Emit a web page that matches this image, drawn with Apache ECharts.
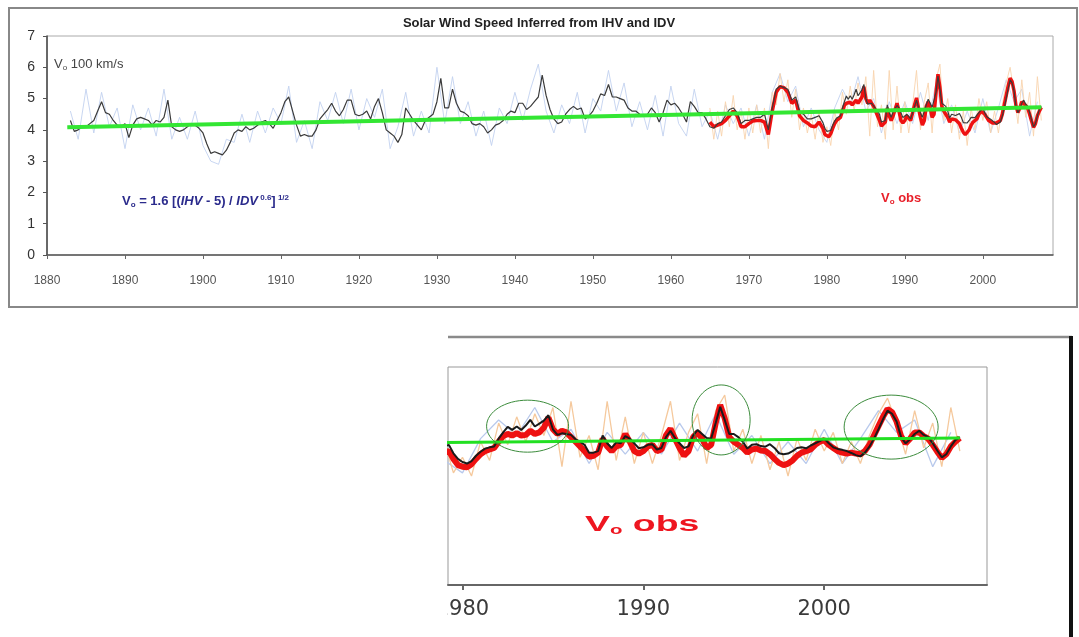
<!DOCTYPE html>
<html>
<head>
<meta charset="utf-8">
<title>Solar Wind Speed Inferred from IHV and IDV</title>
<script src="https://cdn.jsdelivr.net/npm/echarts@6/dist/echarts.min.js"></script>
<style>
  html, body { margin: 0; padding: 0; background: #fff; }
  #chart { width: 1079px; height: 637px; }
</style>
</head>
<body>
<div id="chart"></div>
<script>
// tick labels
const topTicks = [1880, 1890, 1900, 1910, 1920, 1930, 1940, 1950, 1960, 1970, 1980, 1990, 2000];
const zoomTicks = [1980, 1990, 2000];

// inferred V0 (smoothed), 1883.0 .. 1978.5 every half year
const inferStartA = 1883, inferStepA = 0.5;
const inferA = [
  4.30, 3.95, 4.00, 4.10, 4.10, 4.20, 4.30, 4.60, 4.90, 4.55,
  4.50, 4.30, 4.15, 4.10, 4.20, 3.75, 4.15, 4.35, 4.40, 4.35,
  4.30, 4.15, 4.30, 4.25, 4.40, 4.95, 4.10, 4.00, 3.95, 4.00,
  4.10, 4.20, 4.15, 4.05, 3.90, 3.55, 3.25, 3.30, 3.25, 3.20,
  3.35, 3.60, 3.90, 4.00, 3.95, 4.10, 4.00, 4.05, 4.15, 4.25,
  4.30, 4.20, 4.05, 4.30, 4.55, 4.90, 5.05, 4.60, 4.15, 3.80,
  3.85, 3.80, 3.80, 4.00, 4.35, 4.50, 4.65, 4.85, 4.60, 4.45,
  4.65, 4.95, 4.95, 4.50, 4.45, 4.50, 4.60, 4.35, 4.75, 5.00,
  4.55, 4.00, 3.90, 3.80, 3.60, 3.85, 4.70, 4.50, 4.30, 4.15,
  4.00, 4.30, 4.40, 4.50, 4.90, 5.65, 4.70, 4.70, 5.30, 4.85,
  4.60, 4.55, 4.45, 4.20, 4.15, 4.20, 4.10, 3.90, 4.00, 4.15,
  4.20, 4.30, 4.50, 4.60, 4.55, 4.85, 4.85, 4.65, 4.75, 4.90,
  5.05, 5.75, 5.10, 4.65, 4.35, 4.20, 4.25, 4.50, 4.65, 4.75,
  4.65, 4.70, 4.35, 4.45, 4.60, 4.85, 5.15, 5.10, 5.45, 5.05,
  5.05, 5.00, 4.95, 4.70, 4.60, 4.60, 4.50, 4.45, 4.50, 4.70,
  4.55, 4.25, 4.55, 4.95, 4.80, 4.85, 4.70, 4.50, 4.25, 4.90,
  4.75, 4.55, 4.55, 4.35, 4.10, 4.05, 4.20, 4.25, 4.45, 4.65,
  4.70, 4.55, 4.20, 4.30, 4.30, 4.35, 4.40, 4.40, 4.50, 4.00,
  4.70, 5.30, 5.40, 5.35, 5.30, 4.95, 5.05, 4.60, 4.50, 4.35,
  4.35, 4.40
];
// inferred V0 (smoothed), 1979.0 .. 2007.5 every quarter year
const inferStartB = 1979, inferStepB = 0.25;
const inferB = [
  4.45, 4.50, 4.23, 4.05,  3.95, 3.90, 3.98, 4.15,  4.28, 4.38, 4.42, 4.45,
  4.70, 4.90, 5.08, 4.98,  5.09, 4.98, 5.12, 5.30,  5.09, 5.18, 5.28, 5.45,
  5.00, 4.82, 4.87, 4.85,  4.82, 4.68, 4.60, 4.50,  4.25, 4.25, 4.30, 4.80,
  4.55, 4.40, 4.58, 4.55,  4.78, 4.70, 4.55, 4.39,  4.42, 4.50, 4.52, 4.35,
  4.40, 4.75, 4.95, 4.72,  4.55, 4.40, 4.45, 4.80,  4.98, 4.85, 4.72, 4.70,
  5.20, 5.72, 5.30, 4.85,  4.85, 4.75, 4.60, 4.38,  4.50, 4.52, 4.46, 4.44,
  4.52, 4.40, 4.23, 4.20,  4.22, 4.30, 4.40, 4.42,  4.39, 4.48, 4.55, 4.62,
  4.70, 4.55, 4.42, 4.37,  4.34, 4.30, 4.24, 4.17,  4.13, 4.25, 4.44, 4.70,
  5.00, 5.32, 5.60, 5.50,  5.25, 4.75, 4.55, 4.68,  4.85, 4.95, 4.82, 4.75,
  4.55, 4.32, 4.10, 4.20,  4.45, 4.65, 4.75
];

// observed V0 (smoothed), 1965.0 .. 1978.5 every half year
const obsStartA = 1965, obsStepA = 0.5;
const obsA = [
  4.25, 4.10, 4.15, 4.20, 4.30, 4.45, 4.60, 4.45, 4.10, 4.10,
  4.20, 4.28, 4.30, 4.30, 4.25, 3.85, 4.60, 5.20, 5.38, 5.35,
  5.20, 4.85, 4.95, 4.45, 4.30, 4.22, 4.12, 4.10
];
// observed V0 (smoothed), 1979.0 .. 2007.5 every quarter year
const obsStartB = 1979, obsStepB = 0.25;
const obsB = [
  4.25, 4.30, 4.05, 3.85,  3.80, 3.78, 3.88, 4.05,  4.20, 4.30, 4.35, 4.40,
  4.60, 4.78, 4.85, 4.80,  4.88, 4.80, 4.82, 4.95,  4.85, 4.90, 5.05, 5.38,
  5.00, 4.85, 4.95, 4.90,  4.75, 4.60, 4.45, 4.30,  4.12, 4.15, 4.25, 4.70,
  4.45, 4.30, 4.45, 4.50,  4.85, 4.60, 4.30, 4.22,  4.30, 4.45, 4.50, 4.30,
  4.35, 4.80, 5.02, 4.70,  4.40, 4.15, 4.30, 4.75,  4.90, 4.70, 4.40, 4.50,
  5.20, 5.78, 5.35, 4.75,  4.60, 4.50, 4.40, 4.25,  4.35, 4.38, 4.32, 4.30,
  4.20, 4.05, 3.92, 3.85,  3.90, 4.00, 4.15, 4.25,  4.30, 4.35, 4.50, 4.60,
  4.65, 4.50, 4.40, 4.30,  4.25, 4.22, 4.25, 4.22,  4.20, 4.30, 4.50, 4.80,
  5.10, 5.40, 5.65, 5.55,  5.25, 4.78, 4.55, 4.70,  4.90, 4.90, 4.78, 4.70,
  4.50, 4.28, 4.08, 4.20,  4.45, 4.60, 4.72
];

// raw inferred (thin light blue), 1883 .. 2007 yearly
const rawInferStart = 1883, rawInferStep = 1;
const rawInfer = [
  4.6, 3.7, 5.3, 3.9, 5.2, 4.1, 4.7, 3.4, 4.8, 4.0,
  4.7, 3.8, 5.3, 3.7, 4.4, 3.7, 4.6, 3.5, 3.0, 2.9,
  3.7, 3.6, 4.5, 3.6, 4.6, 3.9, 4.7, 4.2, 5.4, 3.6,
  4.3, 3.4, 4.9, 4.3, 5.2, 4.2, 5.3, 4.0, 5.0, 4.4,
  5.3, 3.4, 4.1, 5.2, 3.8, 4.6, 3.9, 6.0, 4.2, 5.7,
  4.2, 4.9, 3.8, 4.6, 3.5, 4.7, 4.2, 5.2, 4.3, 5.3,
  6.1, 4.6, 3.9, 4.8, 4.2, 5.2, 3.9, 5.0, 4.6, 5.9,
  4.6, 5.5, 4.1, 4.9, 4.0, 5.1, 3.8, 5.4, 4.2, 3.8,
  5.3, 4.1, 4.6, 3.7, 4.8, 4.2, 4.7, 3.8, 4.8, 3.7,
  5.2, 5.8, 4.9, 5.4, 4.1, 4.7, 4.0, 3.6, 4.7, 5.3,
  4.8, 5.7, 4.6, 5.0, 3.9, 4.9, 4.2, 4.9, 4.2, 5.2,
  4.3, 5.5, 4.2, 4.8, 3.9, 4.6, 3.9, 5.0, 3.9, 4.7,
  5.6, 4.9, 5.3, 3.8, 4.9
];
// raw observed (thin light orange), 1965.0 .. 2007.5 every half year
const rawObsStart = 1965, rawObsStep = 0.5;
const rawObs = [
  4.7, 3.7, 4.6, 3.8, 4.9, 4.1, 5.1, 4.0, 4.6, 3.7,
  4.7, 3.9, 4.8, 3.9, 4.7, 3.4, 5.2, 4.8, 5.8, 4.9,
  5.6, 4.4, 5.3, 4.0, 4.7, 3.9, 4.5, 3.7, 4.6, 3.6,
  4.1, 3.5, 4.6, 4.0, 5.2, 4.5, 5.4, 4.6, 5.5, 4.8,
  5.7, 3.8, 5.9, 4.1, 4.8, 3.7, 5.9, 4.0, 5.4, 3.9,
  4.9, 3.9, 4.8, 5.9, 4.0, 4.9, 5.5, 3.9, 5.6, 6.1,
  4.3, 5.0, 3.9, 4.8, 3.7, 4.6, 3.5, 4.7, 4.0, 5.0,
  4.3, 4.9, 3.9, 4.6, 3.9, 4.8, 5.5, 6.0, 5.2, 4.2,
  5.6, 4.4, 5.2, 3.8, 5.7, 4.3
];

// linear trend
const trendYears = [1882.6, 2007.5];
const trendVals = [4.08, 4.72];

function pairs(start, step, vals) {
  return vals.map((v, i) => [start + i * step, v]);
}
const inferData = pairs(inferStartA, inferStepA, inferA).concat(pairs(inferStartB, inferStepB, inferB));
const obsData = pairs(obsStartA, obsStepA, obsA).concat(pairs(obsStartB, obsStepB, obsB));
const rawInferData = pairs(rawInferStart, rawInferStep, rawInfer);
const rawObsData = pairs(rawObsStart, rawObsStep, rawObs);
const trendData = trendYears.map((y, i) => [y, trendVals[i]]);

const FONT = 'Liberation Sans, Arial, sans-serif';
const plainYear = v => String(Math.round(v));

function lineSeries(name, data, idx, color, width, z) {
  return {
    name: name, type: 'line', data: data,
    xAxisIndex: idx, yAxisIndex: idx,
    showSymbol: false, symbol: 'none', silent: true,
    lineStyle: { color: color, width: width },
    z: z
  };
}

const chart = echarts.init(document.getElementById('chart'));
chart.setOption({
  animation: false,
  backgroundColor: '#fff',
  title: {
    text: 'Solar Wind Speed Inferred from IHV and IDV',
    left: 534, top: 12, textAlign: 'center',
    textStyle: { fontFamily: FONT, fontSize: 13, fontWeight: 'bold', color: '#222' }
  },
  grid: [
    { left: 47, top: 36, width: 1006, height: 219, show: true, borderColor: '#aaa', borderWidth: 1, backgroundColor: '#fff' },
    { left: 448, top: 367, width: 539, height: 218, show: true, borderColor: '#999', borderWidth: 1, backgroundColor: '#fff' }
  ],
  xAxis: [
    {
      gridIndex: 0, type: 'value', min: 1880, max: 2009,
      axisLine: { lineStyle: { color: '#555', width: 1.5 } },
      axisTick: { show: true, length: 4, customValues: topTicks, lineStyle: { color: '#666' } },
      axisLabel: { customValues: topTicks, formatter: plainYear, margin: 20, fontSize: 12, color: '#555', fontFamily: FONT },
      splitLine: { show: false }
    },
    {
      gridIndex: 1, type: 'value', min: 1979.2, max: 2009,
      axisLine: { lineStyle: { color: '#666', width: 2 } },
      axisTick: { show: true, length: 5, customValues: zoomTicks, lineStyle: { color: '#666', width: 2 } },
      axisLabel: { customValues: zoomTicks, formatter: plainYear, margin: 14, fontSize: 21, color: '#3a3a3a', fontFamily: 'DejaVu Sans, sans-serif' },
      splitLine: { show: false }
    }
  ],
  yAxis: [
    {
      gridIndex: 0, type: 'value', min: 0, max: 7, interval: 1,
      axisLine: { show: true, lineStyle: { color: '#444', width: 1.5 } },
      axisTick: { show: true, length: 4, lineStyle: { color: '#555' } },
      axisLabel: { margin: 12, fontSize: 14, color: '#333', fontFamily: FONT },
      splitLine: { show: false }
    },
    {
      gridIndex: 1, type: 'value', min: 0, max: 7, show: false,
      splitLine: { show: false }
    }
  ],
  series: [
    lineSeries('raw inferred', rawInferData, 0, '#c2d1ef', 0.9, 1),
    lineSeries('raw obs', rawObsData, 0, '#f8d4ae', 0.9, 2),
    lineSeries('V0 obs', obsData, 0, '#ee1111', 3.5, 3),
    lineSeries('V0 inferred', inferData, 0, '#3a3a3a', 1.2, 4),
    lineSeries('trend', trendData, 0, '#33e633', 4, 5),

    lineSeries('raw inferred', rawInferData, 1, '#b8c9ec', 1.3, 1),
    lineSeries('raw obs', rawObsData, 1, '#f5c99d', 1.3, 2),
    lineSeries('V0 obs', obsData, 1, '#ee1111', 6, 3),
    lineSeries('V0 inferred', inferData, 1, '#1a1a1a', 2, 4),
    lineSeries('trend', trendData, 1, '#22e022', 3, 5)
  ],
  graphic: [
    // outer frame of the upper figure
    { id: 'frameTop', type: 'rect', z: 50, shape: { x: 9, y: 8, width: 1068, height: 299 },
      style: { fill: null, stroke: '#888', lineWidth: 2 } },
    // crop mask on the left of the lower figure
    { id: 'mask', type: 'rect', z: 40, shape: { x: 0, y: 338, width: 447, height: 299 },
      style: { fill: '#fff' } },
    // the cropped lower figure: frame edges
    { id: 'frameLowTop', type: 'line', z: 50, shape: { x1: 448, y1: 337, x2: 1072, y2: 337 },
      style: { stroke: '#8a8a8a', lineWidth: 2.5 } },
    { id: 'frameLowRight', type: 'line', z: 50, shape: { x1: 1071, y1: 336, x2: 1071, y2: 637 },
      style: { stroke: '#111', lineWidth: 4 } },
    { id: 'unitText', type: 'text', z: 60, left: 54, top: 58,
      style: {
        text: '{a|V}{s|o}{a| 100 km/s}',
        rich: {
          a: { fontFamily: FONT, fontSize: 13, fill: '#444' },
          s: { fontFamily: FONT, fontSize: 8, fill: '#444', padding: [6, 0, 0, 0] }
        }
      } },
    { id: 'formula', type: 'text', z: 60, left: 122, top: 194,
      style: {
        text: '{a|V}{s|o}{a| = 1.6 [(}{i|IHV}{a| - 5) / }{i|IDV}{p| 0.6}{a|]}{p| 1/2}',
        rich: {
          a: { fontFamily: FONT, fontSize: 13, fontWeight: 'bold', fill: '#2b2b8c' },
          i: { fontFamily: FONT, fontSize: 13, fontWeight: 'bold', fontStyle: 'italic', fill: '#2b2b8c' },
          s: { fontFamily: FONT, fontSize: 8, fontWeight: 'bold', fill: '#2b2b8c', padding: [7, 0, 0, 0] },
          p: { fontFamily: FONT, fontSize: 8, fontWeight: 'bold', fill: '#2b2b8c', padding: [0, 0, 7, 0] }
        }
      } },
    { id: 'obsTop', type: 'text', z: 60, left: 881, top: 192,
      style: {
        text: '{a|V}{s|o}{a| obs}',
        rich: {
          a: { fontFamily: FONT, fontSize: 13, fontWeight: 'bold', fill: '#e8202a' },
          s: { fontFamily: FONT, fontSize: 8, fontWeight: 'bold', fill: '#e8202a', padding: [7, 0, 0, 0] }
        }
      } },
    { id: 'obsLow', type: 'text', z: 60, x: 585, y: 513, scaleX: 1.7,
      style: {
        text: '{a|V}{s|o}{a| obs}',
        rich: {
          a: { fontFamily: FONT, fontSize: 22, fontWeight: 'bold', fill: '#ee1620' },
          s: { fontFamily: FONT, fontSize: 12, fontWeight: 'bold', fill: '#ee1620', padding: [12, 0, 0, 0] }
        }
      } }
  ]
});

// circled episodes in the lower figure, placed through the lower grid's scales
const circles = [
  { year: 1983.6, value: 5.1, rx: 41, ry: 26 },
  { year: 1994.3, value: 5.3, rx: 29, ry: 35 },
  { year: 2003.7, value: 5.07, rx: 47, ry: 32 }
];
chart.setOption({
  graphic: circles.map((c, i) => {
    const p = chart.convertToPixel({ gridIndex: 1 }, [c.year, c.value]);
    return {
      id: 'circle' + i, type: 'ellipse', z: 55,
      shape: { cx: p[0], cy: p[1], rx: c.rx, ry: c.ry },
      style: { fill: null, stroke: '#3c8c3c', lineWidth: 1 }
    };
  })
});
</script>
</body>
</html>
